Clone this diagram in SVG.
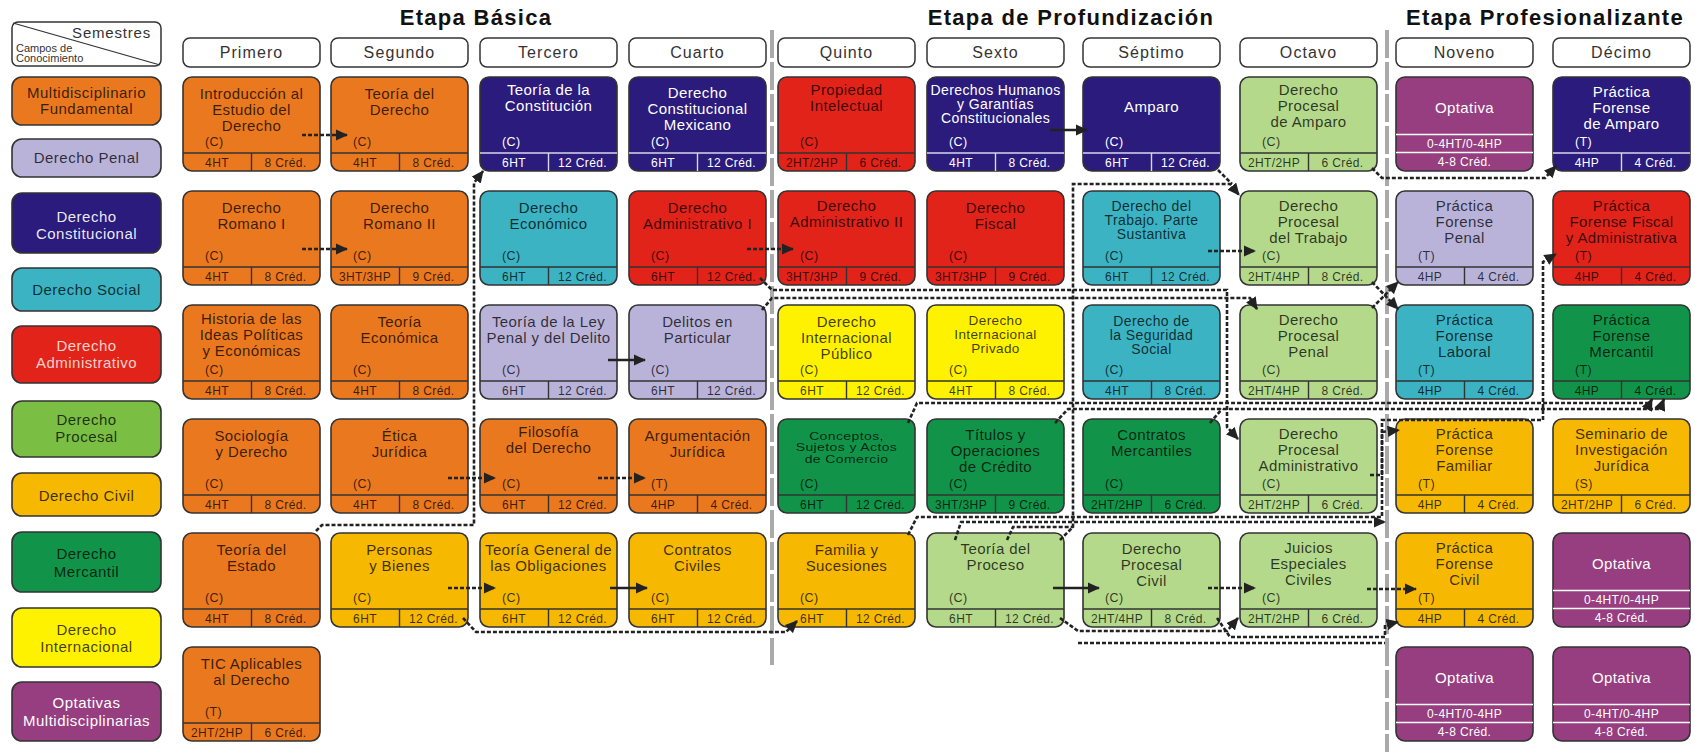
<svg xmlns="http://www.w3.org/2000/svg" width="1695" height="752" viewBox="0 0 1695 752">
<style>
text{font-family:"Liberation Sans",Arial,Helvetica,sans-serif}
.et{font-size:22px;font-weight:bold;text-anchor:middle;letter-spacing:1.3px;fill:#111}
.hd rect{fill:#fff;stroke:#333;stroke-width:1.5}
.hd text{font-size:16px;text-anchor:middle;letter-spacing:1.1px;fill:#333}
.box{stroke:#333;stroke-width:1.6}
.sep{fill:none;stroke:#333;stroke-width:1.4}
.nd text{fill:#000;fill-opacity:.76;letter-spacing:.4px}
.lt text{fill:#fff;fill-opacity:1}
.lt .sep{stroke:#d8d8e8}
.t{font-size:15px;text-anchor:middle}
.s14{font-size:14px}
.s13{font-size:13.5px}
.c{font-size:12.5px}
.b{font-size:12px;text-anchor:middle}
.lg text{font-size:15px;text-anchor:middle;letter-spacing:.5px;fill:#000;fill-opacity:.76}
.or{fill:#E9781E}.pe{fill:#B9B3DA}.co{fill:#2A1B7C}.so{fill:#3BB3C3}.ad{fill:#E2231A}
.pr{fill:#B4D98B}.pl{fill:#7ABF43}.ci{fill:#F6B800}.me{fill:#11944A}.in{fill:#FFF200}.op{fill:#963E80}
.dash{fill:none;stroke:#222;stroke-width:2.6;stroke-dasharray:4 2}
.sol{fill:none;stroke:#222;stroke-width:2.6}
.vsep{stroke:#aaa;stroke-width:4;stroke-dasharray:28 4}
.ow{stroke:#fff;stroke-width:1.3}
</style>
<defs>
<marker id="ah" viewBox="0 0 12 11" refX="11" refY="5.5" markerWidth="4.8" markerHeight="4.4" orient="auto" markerUnits="strokeWidth"><path d="M0,0 L12,5.5 L0,11 z" fill="#222"/></marker>
</defs>
<rect width="1695" height="752" fill="#fff"/>

<line class="vsep" x1="772" y1="30" x2="772" y2="665"/>
<line class="vsep" x1="1387" y1="30" x2="1387" y2="752"/>

<text class="et" x="476" y="25">Etapa Básica</text>
<text class="et" x="1071" y="25">Etapa de Profundización</text>
<text class="et" x="1545" y="25">Etapa Profesionalizante</text>

<g id="legend-header">
<rect x="12" y="22" width="149" height="44" rx="6" fill="#fff" stroke="#333" stroke-width="1.5"/>
<line x1="13" y1="23" x2="160" y2="65" stroke="#333" stroke-width="1.3"/>
<text x="151" y="38" font-size="15" text-anchor="end" letter-spacing=".8" fill="#333">Semestres</text>
<text x="16" y="52" font-size="11" fill="#333">Campos de</text>
<text x="16" y="62" font-size="11" fill="#333">Conocimiento</text>
</g>

<g id="legend" class="lg">
<g id="lg-mf"><rect class="box or" x="12" y="77" width="149" height="48" rx="10"/><text x="86.5" y="98">Multidisciplinario</text><text x="86.5" y="114">Fundamental</text></g>
<g id="lg-pe"><rect class="box pe" x="12" y="139" width="149" height="38" rx="10"/><text x="86.5" y="163">Derecho Penal</text></g>
<g id="lg-co"><rect class="box co" x="12" y="193" width="149" height="60" rx="10"/><text x="86.5" y="222" style="fill:#fff;fill-opacity:.92">Derecho</text><text x="86.5" y="239" style="fill:#fff;fill-opacity:.92">Constitucional</text></g>
<g id="lg-so"><rect class="box so" x="12" y="268" width="149" height="43" rx="10"/><text x="86.5" y="295">Derecho Social</text></g>
<g id="lg-ad"><rect class="box ad" x="12" y="326" width="149" height="57" rx="10"/><text x="86.5" y="351" style="fill:#f6d2cc;fill-opacity:1">Derecho</text><text x="86.5" y="368" style="fill:#f6d2cc;fill-opacity:1">Administrativo</text></g>
<g id="lg-pl"><rect class="box pl" x="12" y="401" width="149" height="56" rx="10"/><text x="86.5" y="425">Derecho</text><text x="86.5" y="442">Procesal</text></g>
<g id="lg-ci"><rect class="box ci" x="12" y="473" width="149" height="43" rx="10"/><text x="86.5" y="501">Derecho Civil</text></g>
<g id="lg-me"><rect class="box me" x="12" y="532" width="149" height="60" rx="10"/><text x="86.5" y="559">Derecho</text><text x="86.5" y="577">Mercantil</text></g>
<g id="lg-in"><rect class="box in" x="12" y="608" width="149" height="59" rx="10"/><text x="86.5" y="635">Derecho</text><text x="86.5" y="652">Internacional</text></g>
<g id="lg-op"><rect class="box op" x="12" y="682" width="149" height="59" rx="10"/><text x="86.5" y="708" style="fill:#fff;fill-opacity:1">Optativas</text><text x="86.5" y="726" style="fill:#fff;fill-opacity:1">Multidisciplinarias</text></g>
</g>

<g id="headers">
<g id="h1" class="hd" transform="translate(183,38)"><rect width="137" height="29" rx="7"/><text x="68.5" y="20">Primero</text></g>
<g id="h2" class="hd" transform="translate(331,38)"><rect width="137" height="29" rx="7"/><text x="68.5" y="20">Segundo</text></g>
<g id="h3" class="hd" transform="translate(480,38)"><rect width="137" height="29" rx="7"/><text x="68.5" y="20">Tercero</text></g>
<g id="h4" class="hd" transform="translate(629,38)"><rect width="137" height="29" rx="7"/><text x="68.5" y="20">Cuarto</text></g>
<g id="h5" class="hd" transform="translate(778,38)"><rect width="137" height="29" rx="7"/><text x="68.5" y="20">Quinto</text></g>
<g id="h6" class="hd" transform="translate(927,38)"><rect width="137" height="29" rx="7"/><text x="68.5" y="20">Sexto</text></g>
<g id="h7" class="hd" transform="translate(1083,38)"><rect width="137" height="29" rx="7"/><text x="68.5" y="20">Séptimo</text></g>
<g id="h8" class="hd" transform="translate(1240,38)"><rect width="137" height="29" rx="7"/><text x="68.5" y="20">Octavo</text></g>
<g id="h9" class="hd" transform="translate(1396,38)"><rect width="137" height="29" rx="7"/><text x="68.5" y="20">Noveno</text></g>
<g id="h10" class="hd" transform="translate(1553,38)"><rect width="137" height="29" rx="7"/><text x="68.5" y="20">Décimo</text></g>
</g>

<!-- Primero -->
<g id="n11" class="nd" transform="translate(183,77)"><rect class="box or" width="137" height="94" rx="9"/><path class="sep" d="M0 76H137M68.5 76V94"/><text class="t" x="68.5" y="22">Introducción al<tspan x="68.5" dy="16">Estudio del</tspan><tspan x="68.5" dy="16">Derecho</tspan></text><text class="c" x="22" y="69">(C)</text><text class="b" x="34" y="90">4HT</text><text class="b" x="102.5" y="90">8 Créd.</text></g>
<g id="n12" class="nd" transform="translate(183,191)"><rect class="box or" width="137" height="94" rx="9"/><path class="sep" d="M0 76H137M68.5 76V94"/><text class="t" x="68.5" y="22">Derecho<tspan x="68.5" dy="16">Romano I</tspan></text><text class="c" x="22" y="69">(C)</text><text class="b" x="34" y="90">4HT</text><text class="b" x="102.5" y="90">8 Créd.</text></g>
<g id="n13" class="nd" transform="translate(183,305)"><rect class="box or" width="137" height="94" rx="9"/><path class="sep" d="M0 76H137M68.5 76V94"/><text class="t" x="68.5" y="19">Historia de las<tspan x="68.5" dy="16">Ideas Políticas</tspan><tspan x="68.5" dy="16">y Económicas</tspan></text><text class="c" x="22" y="69">(C)</text><text class="b" x="34" y="90">4HT</text><text class="b" x="102.5" y="90">8 Créd.</text></g>
<g id="n14" class="nd" transform="translate(183,419)"><rect class="box or" width="137" height="94" rx="9"/><path class="sep" d="M0 76H137M68.5 76V94"/><text class="t" x="68.5" y="22">Sociología<tspan x="68.5" dy="16">y Derecho</tspan></text><text class="c" x="22" y="69">(C)</text><text class="b" x="34" y="90">4HT</text><text class="b" x="102.5" y="90">8 Créd.</text></g>
<g id="n15" class="nd" transform="translate(183,533)"><rect class="box or" width="137" height="94" rx="9"/><path class="sep" d="M0 76H137M68.5 76V94"/><text class="t" x="68.5" y="22">Teoría del<tspan x="68.5" dy="16">Estado</tspan></text><text class="c" x="22" y="69">(C)</text><text class="b" x="34" y="90">4HT</text><text class="b" x="102.5" y="90">8 Créd.</text></g>
<g id="n16" class="nd" transform="translate(183,647)"><rect class="box or" width="137" height="94" rx="9"/><path class="sep" d="M0 76H137M68.5 76V94"/><text class="t" x="68.5" y="22">TIC Aplicables<tspan x="68.5" dy="16">al Derecho</tspan></text><text class="c" x="22" y="69">(T)</text><text class="b" x="34" y="90">2HT/2HP</text><text class="b" x="102.5" y="90">6 Créd.</text></g>

<!-- Segundo -->
<g id="n21" class="nd" transform="translate(331,77)"><rect class="box or" width="137" height="94" rx="9"/><path class="sep" d="M0 76H137M68.5 76V94"/><text class="t" x="68.5" y="22">Teoría del<tspan x="68.5" dy="16">Derecho</tspan></text><text class="c" x="22" y="69">(C)</text><text class="b" x="34" y="90">4HT</text><text class="b" x="102.5" y="90">8 Créd.</text></g>
<g id="n22" class="nd" transform="translate(331,191)"><rect class="box or" width="137" height="94" rx="9"/><path class="sep" d="M0 76H137M68.5 76V94"/><text class="t" x="68.5" y="22">Derecho<tspan x="68.5" dy="16">Romano II</tspan></text><text class="c" x="22" y="69">(C)</text><text class="b" x="34" y="90">3HT/3HP</text><text class="b" x="102.5" y="90">9 Créd.</text></g>
<g id="n23" class="nd" transform="translate(331,305)"><rect class="box or" width="137" height="94" rx="9"/><path class="sep" d="M0 76H137M68.5 76V94"/><text class="t" x="68.5" y="22">Teoría<tspan x="68.5" dy="16">Económica</tspan></text><text class="c" x="22" y="69">(C)</text><text class="b" x="34" y="90">4HT</text><text class="b" x="102.5" y="90">8 Créd.</text></g>
<g id="n24" class="nd" transform="translate(331,419)"><rect class="box or" width="137" height="94" rx="9"/><path class="sep" d="M0 76H137M68.5 76V94"/><text class="t" x="68.5" y="22">Ética<tspan x="68.5" dy="16">Jurídica</tspan></text><text class="c" x="22" y="69">(C)</text><text class="b" x="34" y="90">4HT</text><text class="b" x="102.5" y="90">8 Créd.</text></g>
<g id="n25" class="nd" transform="translate(331,533)"><rect class="box ci" width="137" height="94" rx="9"/><path class="sep" d="M0 76H137M68.5 76V94"/><text class="t" x="68.5" y="22">Personas<tspan x="68.5" dy="16">y Bienes</tspan></text><text class="c" x="22" y="69">(C)</text><text class="b" x="34" y="90">6HT</text><text class="b" x="102.5" y="90">12 Créd.</text></g>

<!-- Tercero -->
<g id="n31" class="nd lt" transform="translate(480,77)"><rect class="box co" width="137" height="94" rx="9"/><path class="sep" d="M0 76H137M68.5 76V94"/><text class="t" x="68.5" y="18">Teoría de la<tspan x="68.5" dy="16">Constitución</tspan></text><text class="c" x="22" y="69">(C)</text><text class="b" x="34" y="90">6HT</text><text class="b" x="102.5" y="90">12 Créd.</text></g>
<g id="n32" class="nd" transform="translate(480,191)"><rect class="box so" width="137" height="94" rx="9"/><path class="sep" d="M0 76H137M68.5 76V94"/><text class="t" x="68.5" y="22">Derecho<tspan x="68.5" dy="16">Económico</tspan></text><text class="c" x="22" y="69">(C)</text><text class="b" x="34" y="90">6HT</text><text class="b" x="102.5" y="90">12 Créd.</text></g>
<g id="n33" class="nd" transform="translate(480,305)"><rect class="box pe" width="137" height="94" rx="9"/><path class="sep" d="M0 76H137M68.5 76V94"/><text class="t" x="68.5" y="22">Teoría de la Ley<tspan x="68.5" dy="16">Penal y del Delito</tspan></text><text class="c" x="22" y="69">(C)</text><text class="b" x="34" y="90">6HT</text><text class="b" x="102.5" y="90">12 Créd.</text></g>
<g id="n34" class="nd" transform="translate(480,419)"><rect class="box or" width="137" height="94" rx="9"/><path class="sep" d="M0 76H137M68.5 76V94"/><text class="t" x="68.5" y="18">Filosofía<tspan x="68.5" dy="16">del Derecho</tspan></text><text class="c" x="22" y="69">(C)</text><text class="b" x="34" y="90">6HT</text><text class="b" x="102.5" y="90">12 Créd.</text></g>
<g id="n35" class="nd" transform="translate(480,533)"><rect class="box ci" width="137" height="94" rx="9"/><path class="sep" d="M0 76H137M68.5 76V94"/><text class="t" x="68.5" y="22">Teoría General de<tspan x="68.5" dy="16">las Obligaciones</tspan></text><text class="c" x="22" y="69">(C)</text><text class="b" x="34" y="90">6HT</text><text class="b" x="102.5" y="90">12 Créd.</text></g>

<!-- Cuarto -->
<g id="n41" class="nd lt" transform="translate(629,77)"><rect class="box co" width="137" height="94" rx="9"/><path class="sep" d="M0 76H137M68.5 76V94"/><text class="t" x="68.5" y="21">Derecho<tspan x="68.5" dy="16">Constitucional</tspan><tspan x="68.5" dy="16">Mexicano</tspan></text><text class="c" x="22" y="69">(C)</text><text class="b" x="34" y="90">6HT</text><text class="b" x="102.5" y="90">12 Créd.</text></g>
<g id="n42" class="nd" transform="translate(629,191)"><rect class="box ad" width="137" height="94" rx="9"/><path class="sep" d="M0 76H137M68.5 76V94"/><text class="t" x="68.5" y="22">Derecho<tspan x="68.5" dy="16">Administrativo I</tspan></text><text class="c" x="22" y="69">(C)</text><text class="b" x="34" y="90">6HT</text><text class="b" x="102.5" y="90">12 Créd.</text></g>
<g id="n43" class="nd" transform="translate(629,305)"><rect class="box pe" width="137" height="94" rx="9"/><path class="sep" d="M0 76H137M68.5 76V94"/><text class="t" x="68.5" y="22">Delitos en<tspan x="68.5" dy="16">Particular</tspan></text><text class="c" x="22" y="69">(C)</text><text class="b" x="34" y="90">6HT</text><text class="b" x="102.5" y="90">12 Créd.</text></g>
<g id="n44" class="nd" transform="translate(629,419)"><rect class="box or" width="137" height="94" rx="9"/><path class="sep" d="M0 76H137M68.5 76V94"/><text class="t" x="68.5" y="22">Argumentación<tspan x="68.5" dy="16">Jurídica</tspan></text><text class="c" x="22" y="69">(T)</text><text class="b" x="34" y="90">4HP</text><text class="b" x="102.5" y="90">4 Créd.</text></g>
<g id="n45" class="nd" transform="translate(629,533)"><rect class="box ci" width="137" height="94" rx="9"/><path class="sep" d="M0 76H137M68.5 76V94"/><text class="t" x="68.5" y="22">Contratos<tspan x="68.5" dy="16">Civiles</tspan></text><text class="c" x="22" y="69">(C)</text><text class="b" x="34" y="90">6HT</text><text class="b" x="102.5" y="90">12 Créd.</text></g>

<!-- Quinto -->
<g id="n51" class="nd" transform="translate(778,77)"><rect class="box ad" width="137" height="94" rx="9"/><path class="sep" d="M0 76H137M68.5 76V94"/><text class="t" x="68.5" y="18">Propiedad<tspan x="68.5" dy="16">Intelectual</tspan></text><text class="c" x="22" y="69">(C)</text><text class="b" x="34" y="90">2HT/2HP</text><text class="b" x="102.5" y="90">6 Créd.</text></g>
<g id="n52" class="nd" transform="translate(778,191)"><rect class="box ad" width="137" height="94" rx="9"/><path class="sep" d="M0 76H137M68.5 76V94"/><text class="t" x="68.5" y="20">Derecho<tspan x="68.5" dy="16">Administrativo II</tspan></text><text class="c" x="22" y="69">(C)</text><text class="b" x="34" y="90">3HT/3HP</text><text class="b" x="102.5" y="90">9 Créd.</text></g>
<g id="n53" class="nd" transform="translate(778,305)"><rect class="box in" width="137" height="94" rx="9"/><path class="sep" d="M0 76H137M68.5 76V94"/><text class="t" x="68.5" y="22">Derecho<tspan x="68.5" dy="16">Internacional</tspan><tspan x="68.5" dy="16">Público</tspan></text><text class="c" x="22" y="69">(C)</text><text class="b" x="34" y="90">6HT</text><text class="b" x="102.5" y="90">12 Créd.</text></g>
<g id="n54" class="nd" transform="translate(778,419)"><rect class="box me" width="137" height="94" rx="9"/><path class="sep" d="M0 76H137M68.5 76V94"/><g transform="translate(0,4) scale(1,.8)"><text class="t s14" x="68.5" y="21" letter-spacing="0">Conceptos,<tspan x="68.5" dy="14.5">Sujetos y Actos</tspan><tspan x="68.5" dy="14.5">de Comercio</tspan></text></g><text class="c" x="22" y="69">(C)</text><text class="b" x="34" y="90">6HT</text><text class="b" x="102.5" y="90">12 Créd.</text></g>
<g id="n55" class="nd" transform="translate(778,533)"><rect class="box ci" width="137" height="94" rx="9"/><path class="sep" d="M0 76H137M68.5 76V94"/><text class="t" x="68.5" y="22">Familia y<tspan x="68.5" dy="16">Sucesiones</tspan></text><text class="c" x="22" y="69">(C)</text><text class="b" x="34" y="90">6HT</text><text class="b" x="102.5" y="90">12 Créd.</text></g>

<!-- Sexto -->
<g id="n61" class="nd lt" transform="translate(927,77)"><rect class="box co" width="137" height="94" rx="9"/><path class="sep" d="M0 76H137M68.5 76V94"/><text class="t s14" x="68.5" y="18" letter-spacing=".2">Derechos Humanos<tspan x="68.5" dy="14">y Garantías</tspan><tspan x="68.5" dy="14">Constitucionales</tspan></text><text class="c" x="22" y="69">(C)</text><text class="b" x="34" y="90">4HT</text><text class="b" x="102.5" y="90">8 Créd.</text></g>
<g id="n62" class="nd" transform="translate(927,191)"><rect class="box ad" width="137" height="94" rx="9"/><path class="sep" d="M0 76H137M68.5 76V94"/><text class="t" x="68.5" y="22">Derecho<tspan x="68.5" dy="16">Fiscal</tspan></text><text class="c" x="22" y="69">(C)</text><text class="b" x="34" y="90">3HT/3HP</text><text class="b" x="102.5" y="90">9 Créd.</text></g>
<g id="n63" class="nd" transform="translate(927,305)"><rect class="box in" width="137" height="94" rx="9"/><path class="sep" d="M0 76H137M68.5 76V94"/><text class="t s13" x="68.5" y="20" letter-spacing=".2">Derecho<tspan x="68.5" dy="14">Internacional</tspan><tspan x="68.5" dy="14">Privado</tspan></text><text class="c" x="22" y="69">(C)</text><text class="b" x="34" y="90">4HT</text><text class="b" x="102.5" y="90">8 Créd.</text></g>
<g id="n64" class="nd" transform="translate(927,419)"><rect class="box me" width="137" height="94" rx="9"/><path class="sep" d="M0 76H137M68.5 76V94"/><text class="t" x="68.5" y="21">Títulos y<tspan x="68.5" dy="16">Operaciones</tspan><tspan x="68.5" dy="16">de Crédito</tspan></text><text class="c" x="22" y="69">(C)</text><text class="b" x="34" y="90">3HT/3HP</text><text class="b" x="102.5" y="90">9 Créd.</text></g>
<g id="n65" class="nd" transform="translate(927,533)"><rect class="box pr" width="137" height="94" rx="9"/><path class="sep" d="M0 76H137M68.5 76V94"/><text class="t" x="68.5" y="21">Teoría del<tspan x="68.5" dy="16">Proceso</tspan></text><text class="c" x="22" y="69">(C)</text><text class="b" x="34" y="90">6HT</text><text class="b" x="102.5" y="90">12 Créd.</text></g>

<!-- Septimo -->
<g id="n71" class="nd lt" transform="translate(1083,77)"><rect class="box co" width="137" height="94" rx="9"/><path class="sep" d="M0 76H137M68.5 76V94"/><text class="t" x="68.5" y="35">Amparo</text><text class="c" x="22" y="69">(C)</text><text class="b" x="34" y="90">6HT</text><text class="b" x="102.5" y="90">12 Créd.</text></g>
<g id="n72" class="nd" transform="translate(1083,191)"><rect class="box so" width="137" height="94" rx="9"/><path class="sep" d="M0 76H137M68.5 76V94"/><text class="t s14" x="68.5" y="20" letter-spacing=".2">Derecho del<tspan x="68.5" dy="14">Trabajo. Parte</tspan><tspan x="68.5" dy="14">Sustantiva</tspan></text><text class="c" x="22" y="69">(C)</text><text class="b" x="34" y="90">6HT</text><text class="b" x="102.5" y="90">12 Créd.</text></g>
<g id="n73" class="nd" transform="translate(1083,305)"><rect class="box so" width="137" height="94" rx="9"/><path class="sep" d="M0 76H137M68.5 76V94"/><text class="t s14" x="68.5" y="21" letter-spacing=".2">Derecho de<tspan x="68.5" dy="14">la Seguridad</tspan><tspan x="68.5" dy="14">Social</tspan></text><text class="c" x="22" y="69">(C)</text><text class="b" x="34" y="90">4HT</text><text class="b" x="102.5" y="90">8 Créd.</text></g>
<g id="n74" class="nd" transform="translate(1083,419)"><rect class="box me" width="137" height="94" rx="9"/><path class="sep" d="M0 76H137M68.5 76V94"/><text class="t" x="68.5" y="21">Contratos<tspan x="68.5" dy="16">Mercantiles</tspan></text><text class="c" x="22" y="69">(C)</text><text class="b" x="34" y="90">2HT/2HP</text><text class="b" x="102.5" y="90">6 Créd.</text></g>
<g id="n75" class="nd" transform="translate(1083,533)"><rect class="box pr" width="137" height="94" rx="9"/><path class="sep" d="M0 76H137M68.5 76V94"/><text class="t" x="68.5" y="21">Derecho<tspan x="68.5" dy="16">Procesal</tspan><tspan x="68.5" dy="16">Civil</tspan></text><text class="c" x="22" y="69">(C)</text><text class="b" x="34" y="90">2HT/4HP</text><text class="b" x="102.5" y="90">8 Créd.</text></g>

<!-- Octavo -->
<g id="n81" class="nd" transform="translate(1240,77)"><rect class="box pr" width="137" height="94" rx="9"/><path class="sep" d="M0 76H137M68.5 76V94"/><text class="t" x="68.5" y="18">Derecho<tspan x="68.5" dy="16">Procesal</tspan><tspan x="68.5" dy="16">de Amparo</tspan></text><text class="c" x="22" y="69">(C)</text><text class="b" x="34" y="90">2HT/2HP</text><text class="b" x="102.5" y="90">6 Créd.</text></g>
<g id="n82" class="nd" transform="translate(1240,191)"><rect class="box pr" width="137" height="94" rx="9"/><path class="sep" d="M0 76H137M68.5 76V94"/><text class="t" x="68.5" y="20">Derecho<tspan x="68.5" dy="16">Procesal</tspan><tspan x="68.5" dy="16">del Trabajo</tspan></text><text class="c" x="22" y="69">(C)</text><text class="b" x="34" y="90">2HT/4HP</text><text class="b" x="102.5" y="90">8 Créd.</text></g>
<g id="n83" class="nd" transform="translate(1240,305)"><rect class="box pr" width="137" height="94" rx="9"/><path class="sep" d="M0 76H137M68.5 76V94"/><text class="t" x="68.5" y="20">Derecho<tspan x="68.5" dy="16">Procesal</tspan><tspan x="68.5" dy="16">Penal</tspan></text><text class="c" x="22" y="69">(C)</text><text class="b" x="34" y="90">2HT/4HP</text><text class="b" x="102.5" y="90">8 Créd.</text></g>
<g id="n84" class="nd" transform="translate(1240,419)"><rect class="box pr" width="137" height="94" rx="9"/><path class="sep" d="M0 76H137M68.5 76V94"/><text class="t" x="68.5" y="20">Derecho<tspan x="68.5" dy="16">Procesal</tspan><tspan x="68.5" dy="16">Administrativo</tspan></text><text class="c" x="22" y="69">(C)</text><text class="b" x="34" y="90">2HT/2HP</text><text class="b" x="102.5" y="90">6 Créd.</text></g>
<g id="n85" class="nd" transform="translate(1240,533)"><rect class="box pr" width="137" height="94" rx="9"/><path class="sep" d="M0 76H137M68.5 76V94"/><text class="t" x="68.5" y="20">Juicios<tspan x="68.5" dy="16">Especiales</tspan><tspan x="68.5" dy="16">Civiles</tspan></text><text class="c" x="22" y="69">(C)</text><text class="b" x="34" y="90">2HT/2HP</text><text class="b" x="102.5" y="90">6 Créd.</text></g>

<!-- Noveno -->
<g id="n91" class="nd lt" transform="translate(1396,77)"><rect class="box op" width="137" height="94" rx="9"/><path class="ow" d="M0 57.5H137M0 75.5H137"/><text class="t" x="68.5" y="36">Optativa</text><text class="b" x="68.5" y="71">0-4HT/0-4HP</text><text class="b" x="68.5" y="89">4-8 Créd.</text></g>
<g id="n92" class="nd" transform="translate(1396,191)"><rect class="box pe" width="137" height="94" rx="9"/><path class="sep" d="M0 76H137M68.5 76V94"/><text class="t" x="68.5" y="20">Práctica<tspan x="68.5" dy="16">Forense</tspan><tspan x="68.5" dy="16">Penal</tspan></text><text class="c" x="22" y="69">(T)</text><text class="b" x="34" y="90">4HP</text><text class="b" x="102.5" y="90">4 Créd.</text></g>
<g id="n93" class="nd" transform="translate(1396,305)"><rect class="box so" width="137" height="94" rx="9"/><path class="sep" d="M0 76H137M68.5 76V94"/><text class="t" x="68.5" y="20">Práctica<tspan x="68.5" dy="16">Forense</tspan><tspan x="68.5" dy="16">Laboral</tspan></text><text class="c" x="22" y="69">(T)</text><text class="b" x="34" y="90">4HP</text><text class="b" x="102.5" y="90">4 Créd.</text></g>
<g id="n94" class="nd" transform="translate(1396,419)"><rect class="box ci" width="137" height="94" rx="9"/><path class="sep" d="M0 76H137M68.5 76V94"/><text class="t" x="68.5" y="20">Práctica<tspan x="68.5" dy="16">Forense</tspan><tspan x="68.5" dy="16">Familiar</tspan></text><text class="c" x="22" y="69">(T)</text><text class="b" x="34" y="90">4HP</text><text class="b" x="102.5" y="90">4 Créd.</text></g>
<g id="n95" class="nd" transform="translate(1396,533)"><rect class="box ci" width="137" height="94" rx="9"/><path class="sep" d="M0 76H137M68.5 76V94"/><text class="t" x="68.5" y="20">Práctica<tspan x="68.5" dy="16">Forense</tspan><tspan x="68.5" dy="16">Civil</tspan></text><text class="c" x="22" y="69">(T)</text><text class="b" x="34" y="90">4HP</text><text class="b" x="102.5" y="90">4 Créd.</text></g>
<g id="n96" class="nd lt" transform="translate(1396,647)"><rect class="box op" width="137" height="94" rx="9"/><path class="ow" d="M0 57.5H137M0 75.5H137"/><text class="t" x="68.5" y="36">Optativa</text><text class="b" x="68.5" y="71">0-4HT/0-4HP</text><text class="b" x="68.5" y="89">4-8 Créd.</text></g>

<!-- Decimo -->
<g id="n101" class="nd lt" transform="translate(1553,77)"><rect class="box co" width="137" height="94" rx="9"/><path class="sep" d="M0 76H137M68.5 76V94"/><text class="t" x="68.5" y="20">Práctica<tspan x="68.5" dy="16">Forense</tspan><tspan x="68.5" dy="16">de Amparo</tspan></text><text class="c" x="22" y="69">(T)</text><text class="b" x="34" y="90">4HP</text><text class="b" x="102.5" y="90">4 Créd.</text></g>
<g id="n102" class="nd" transform="translate(1553,191)"><rect class="box ad" width="137" height="94" rx="9"/><path class="sep" d="M0 76H137M68.5 76V94"/><text class="t" x="68.5" y="20">Práctica<tspan x="68.5" dy="16">Forense Fiscal</tspan><tspan x="68.5" dy="16">y Administrativa</tspan></text><text class="c" x="22" y="69">(T)</text><text class="b" x="34" y="90">4HP</text><text class="b" x="102.5" y="90">4 Créd.</text></g>
<g id="n103" class="nd" transform="translate(1553,305)"><rect class="box me" width="137" height="94" rx="9"/><path class="sep" d="M0 76H137M68.5 76V94"/><text class="t" x="68.5" y="20">Práctica<tspan x="68.5" dy="16">Forense</tspan><tspan x="68.5" dy="16">Mercantil</tspan></text><text class="c" x="22" y="69">(T)</text><text class="b" x="34" y="90">4HP</text><text class="b" x="102.5" y="90">4 Créd.</text></g>
<g id="n104" class="nd" transform="translate(1553,419)"><rect class="box ci" width="137" height="94" rx="9"/><path class="sep" d="M0 76H137M68.5 76V94"/><text class="t" x="68.5" y="20">Seminario de<tspan x="68.5" dy="16">Investigación</tspan><tspan x="68.5" dy="16">Jurídica</tspan></text><text class="c" x="22" y="69">(S)</text><text class="b" x="34" y="90">2HT/2HP</text><text class="b" x="102.5" y="90">6 Créd.</text></g>
<g id="n105" class="nd lt" transform="translate(1553,533)"><rect class="box op" width="137" height="94" rx="9"/><path class="ow" d="M0 57.5H137M0 75.5H137"/><text class="t" x="68.5" y="36">Optativa</text><text class="b" x="68.5" y="71">0-4HT/0-4HP</text><text class="b" x="68.5" y="89">4-8 Créd.</text></g>
<g id="n106" class="nd lt" transform="translate(1553,647)"><rect class="box op" width="137" height="94" rx="9"/><path class="ow" d="M0 57.5H137M0 75.5H137"/><text class="t" x="68.5" y="36">Optativa</text><text class="b" x="68.5" y="71">0-4HT/0-4HP</text><text class="b" x="68.5" y="89">4-8 Créd.</text></g>

<g id="connectors">
<path class="dash" marker-end="url(#ah)" d="M302 135H347"/>
<path class="dash" marker-end="url(#ah)" d="M302 249H347"/>
<path class="dash" marker-end="url(#ah)" d="M448 478H495"/>
<path class="dash" marker-end="url(#ah)" d="M598 478H645"/>
<path class="dash" marker-end="url(#ah)" d="M448 588H495"/>
<path class="sol" marker-end="url(#ah)" d="M610 588H647"/>
<path class="sol" marker-end="url(#ah)" d="M608 360H645"/>
<path class="dash" marker-end="url(#ah)" d="M747 249H793"/>
<path class="sol" marker-end="url(#ah)" d="M1050 130H1087"/>
<path class="dash" marker-end="url(#ah)" d="M1208 251H1255"/>
<path class="sol" marker-end="url(#ah)" d="M1053 588H1099"/>
<path class="dash" marker-end="url(#ah)" d="M1208 588H1255"/>
<path class="dash" marker-end="url(#ah)" d="M1367 589H1416"/>
<path class="dash" marker-end="url(#ah)" d="M316 531L322 525H474V183L483 171"/>
<path class="dash" marker-end="url(#ah)" d="M463 618L476 632H786L797 621"/>
<path class="dash" marker-end="url(#ah)" d="M760 278L772 290H1227V427L1238 439"/>
<path class="dash" marker-end="url(#ah)" d="M762 310L772 298H1250L1257 309"/>
<path class="dash" marker-end="url(#ah)" d="M1060 540L1073 527V184H1230L1239 195"/>
<path class="dash" d="M1218 170L1232 184"/>
<path class="dash" marker-end="url(#ah)" d="M1372 168L1382 178H1545L1556 166"/>
<path class="dash" marker-end="url(#ah)" d="M1372 282L1398 309"/>
<path class="dash" marker-end="url(#ah)" d="M1372 308L1398 282"/>
<path class="dash" marker-end="url(#ah)" d="M908 423L917 403H1650L1652 399"/>
<path class="dash" marker-end="url(#ah)" d="M1055 423L1068 409H1660L1664 399"/>
<path class="dash" d="M1210 423L1222 409"/>
<path class="dash" marker-end="url(#ah)" d="M1370 475H1382V420H1543V262L1556 254"/>
<path class="dash" marker-end="url(#ah)" d="M908 535L917 517H1382V432L1399 430"/>
<path class="dash" marker-end="url(#ah)" d="M955 540L961 522H1385"/>
<path class="dash" d="M1007 540L1013 527H1073"/>
<path class="dash" marker-end="url(#ah)" d="M1060 618L1078 631H1227L1238 618"/>
<path class="dash" marker-end="url(#ah)" d="M1217 618L1230 637H1385V625L1398 622"/>
<path class="dash" d="M1078 643H1385"/>
</g>
</svg>
